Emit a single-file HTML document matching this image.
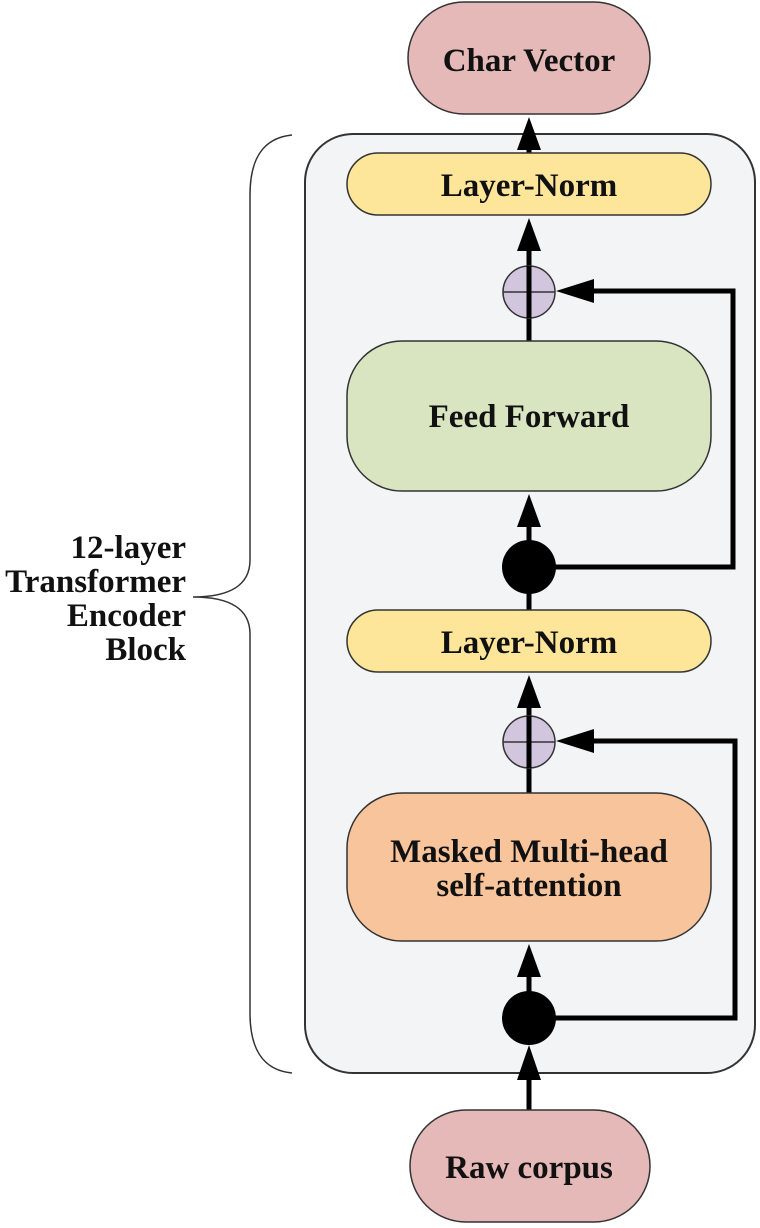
<!DOCTYPE html>
<html><head><meta charset="utf-8"><style>
html,body{margin:0;padding:0;background:#fff;}
svg{display:block}
text{font-family:"Liberation Serif",serif;font-weight:bold;fill:#111;}
</style></head><body>
<svg width="760" height="1228" viewBox="0 0 760 1228" xmlns="http://www.w3.org/2000/svg">
<!-- brace -->
<path d="M292,135 C262,138 250,160 250,195 L250,560 C250,585 230,597 193,597 C230,597 250,609 250,634 L250,1013 C250,1048 262,1070 292,1073" fill="none" stroke="#333" stroke-width="1.5"/>
<text x="186" y="558" font-size="33" text-anchor="end">12-layer</text>
<text x="186" y="592" font-size="33" text-anchor="end">Transformer</text>
<text x="186" y="626" font-size="33" text-anchor="end">Encoder</text>
<text x="186" y="660" font-size="33" text-anchor="end">Block</text>
<!-- outer box -->
<rect x="305" y="134" width="450" height="939" rx="48" fill="#f3f4f5" stroke="#333" stroke-width="2"/>
<g stroke="#000" stroke-width="5" fill="none">
<line x1="529" y1="153" x2="529" y2="140"/>
<line x1="529" y1="341" x2="529" y2="250"/>
<line x1="529" y1="567" x2="529" y2="525"/>
<line x1="529" y1="610" x2="529" y2="567"/>
<line x1="529" y1="793" x2="529" y2="705"/>
<line x1="529" y1="1018" x2="529" y2="975"/>
<line x1="529" y1="1112" x2="529" y2="1078"/>
<polyline points="529,567 733,567 733,291 580,291"/>
<polyline points="529,1018 735,1018 735,741 580,741"/>
</g>
<rect x="408" y="2" width="242" height="112" rx="56" fill="#e4b9b8" stroke="#333" stroke-width="1.5"/>
<text x="529" y="71" font-size="33" text-anchor="middle">Char Vector</text>
<rect x="347" y="153" width="364" height="62" rx="31" fill="#fde69a" stroke="#333" stroke-width="1.5"/>
<text x="529" y="196" font-size="33" text-anchor="middle">Layer-Norm</text>
<rect x="347" y="341" width="364" height="150" rx="55" fill="#d8e5c0" stroke="#333" stroke-width="1.5"/>
<text x="529" y="427" font-size="33" text-anchor="middle">Feed Forward</text>
<rect x="347" y="610" width="364" height="62" rx="31" fill="#fde69a" stroke="#333" stroke-width="1.5"/>
<text x="529" y="653" font-size="33" text-anchor="middle">Layer-Norm</text>
<rect x="347" y="793" width="364" height="148" rx="55" fill="#f7c49b" stroke="#333" stroke-width="1.5"/>
<text x="529" y="862" font-size="33" text-anchor="middle">Masked Multi-head</text>
<text x="529" y="896" font-size="33" text-anchor="middle">self-attention</text>
<rect x="410" y="1110" width="240" height="112" rx="56" fill="#e4b9b8" stroke="#333" stroke-width="1.5"/>
<text x="529" y="1178" font-size="33" text-anchor="middle">Raw corpus</text>
<g stroke="#333" stroke-width="1.5">
<circle cx="529" cy="292" r="26" fill="#d1c6de"/>
<line x1="503" y1="292" x2="555" y2="292"/>
<circle cx="529" cy="742" r="26" fill="#d1c6de"/>
<line x1="503" y1="742" x2="555" y2="742"/>
</g>
<line x1="529" y1="266" x2="529" y2="318" stroke="#000" stroke-width="5"/>
<line x1="529" y1="716" x2="529" y2="768" stroke="#000" stroke-width="5"/>
<circle cx="529" cy="567" r="27" fill="#000"/>
<circle cx="529" cy="1018" r="27" fill="#000"/>
<g fill="#000">
<polygon points="529,117 517,150 541,150"/>
<polygon points="529,218 517,251 541,251"/>
<polygon points="529,494 517,527 541,527"/>
<polygon points="529,675 517,708 541,708"/>
<polygon points="529,944 517,977 541,977"/>
<polygon points="529,1045 517,1080 541,1080"/>
<polygon points="556,291 594,279 594,303"/>
<polygon points="556,741 594,729 594,753"/>
</g>
</svg>
</body></html>
